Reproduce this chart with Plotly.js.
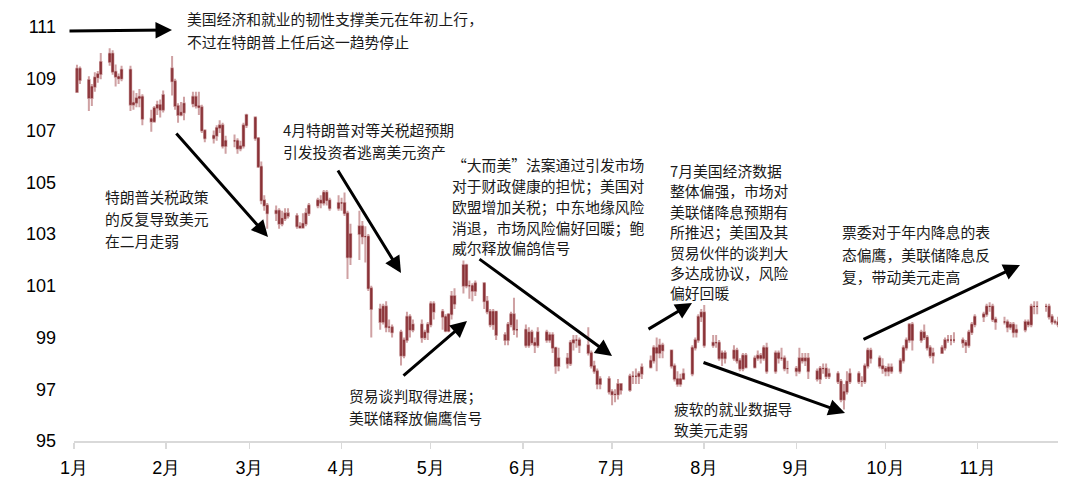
<!DOCTYPE html>
<html>
<head>
<meta charset="utf-8">
<script src="https://cdn.plot.ly/plotly-3.0.1.min.js"></script>
<style>html,body{margin:0;padding:0;background:#fff;}#chart{width:1080px;height:496px;}</style>
</head>
<body>
<div id="chart"></div>
<script>
// ---- Data: US dollar index (DXY) daily OHLC, 2025 ----
const dates = [
  "2025-01-02","2025-01-03","2025-01-06","2025-01-07","2025-01-08","2025-01-09","2025-01-10","2025-01-13","2025-01-14","2025-01-15","2025-01-16","2025-01-17","2025-01-20","2025-01-21","2025-01-22","2025-01-23","2025-01-24","2025-01-27","2025-01-28","2025-01-29","2025-01-30","2025-01-31",
  "2025-02-03","2025-02-04","2025-02-05","2025-02-06","2025-02-07","2025-02-10","2025-02-11","2025-02-12","2025-02-13","2025-02-14","2025-02-17","2025-02-18","2025-02-19","2025-02-20","2025-02-21","2025-02-24","2025-02-25","2025-02-26","2025-02-27","2025-02-28",
  "2025-03-03","2025-03-04","2025-03-05","2025-03-06","2025-03-07","2025-03-10","2025-03-11","2025-03-12","2025-03-13","2025-03-14","2025-03-17","2025-03-18","2025-03-19","2025-03-20","2025-03-21","2025-03-24","2025-03-25","2025-03-26","2025-03-27","2025-03-28","2025-03-31",
  "2025-04-01","2025-04-02","2025-04-03","2025-04-04","2025-04-07","2025-04-08","2025-04-09","2025-04-10","2025-04-11","2025-04-14","2025-04-15","2025-04-16","2025-04-17","2025-04-18","2025-04-21","2025-04-22","2025-04-23","2025-04-24","2025-04-25","2025-04-28","2025-04-29","2025-04-30",
  "2025-05-01","2025-05-02","2025-05-05","2025-05-06","2025-05-07","2025-05-08","2025-05-09","2025-05-12","2025-05-13","2025-05-14","2025-05-15","2025-05-16","2025-05-19","2025-05-20","2025-05-21","2025-05-22","2025-05-23","2025-05-26","2025-05-27","2025-05-28","2025-05-29","2025-05-30",
  "2025-06-02","2025-06-03","2025-06-04","2025-06-05","2025-06-06","2025-06-09","2025-06-10","2025-06-11","2025-06-12","2025-06-13","2025-06-16","2025-06-17","2025-06-18","2025-06-19","2025-06-20","2025-06-23","2025-06-24","2025-06-25","2025-06-26","2025-06-27","2025-06-30",
  "2025-07-01","2025-07-02","2025-07-03","2025-07-04","2025-07-07","2025-07-08","2025-07-09","2025-07-10","2025-07-11","2025-07-14","2025-07-15","2025-07-16","2025-07-17","2025-07-18","2025-07-21","2025-07-22","2025-07-23","2025-07-24","2025-07-25","2025-07-28","2025-07-29","2025-07-30","2025-07-31",
  "2025-08-01","2025-08-04","2025-08-05","2025-08-06","2025-08-07","2025-08-08","2025-08-11","2025-08-12","2025-08-13","2025-08-14","2025-08-15","2025-08-18","2025-08-19","2025-08-20","2025-08-21","2025-08-22","2025-08-25","2025-08-26","2025-08-27","2025-08-28","2025-08-29",
  "2025-09-01","2025-09-02","2025-09-03","2025-09-04","2025-09-05","2025-09-08","2025-09-09","2025-09-10","2025-09-11","2025-09-12","2025-09-15","2025-09-16","2025-09-17","2025-09-18","2025-09-19","2025-09-22","2025-09-23","2025-09-24","2025-09-25","2025-09-26","2025-09-29","2025-09-30",
  "2025-10-01","2025-10-02","2025-10-03","2025-10-06","2025-10-07","2025-10-08","2025-10-09","2025-10-10","2025-10-13","2025-10-14","2025-10-15","2025-10-16","2025-10-17","2025-10-20","2025-10-21","2025-10-22","2025-10-23","2025-10-24","2025-10-27","2025-10-28","2025-10-29","2025-10-30","2025-10-31",
  "2025-11-03","2025-11-04","2025-11-05","2025-11-06","2025-11-07","2025-11-10","2025-11-11","2025-11-12","2025-11-13","2025-11-14","2025-11-17","2025-11-18","2025-11-19","2025-11-20","2025-11-21","2025-11-24","2025-11-25","2025-11-26","2025-11-27","2025-11-28"
];
const openVals = [
  108.49,109.39,108.95,108.26,108.69,109.05,109.18,109.65,109.97,109.27,109.08,109.01,109.35,108.00,108.07,108.25,108.30,107.45,107.35,107.87,107.99,107.80,
  109.40,108.90,107.95,107.60,107.70,108.04,108.30,107.95,107.90,107.00,106.70,106.80,107.10,107.20,106.40,106.60,106.60,106.30,106.40,107.20,
  107.50,106.70,105.60,104.30,104.10,103.80,103.90,103.40,103.60,103.80,103.70,103.30,103.25,103.40,103.80,104.10,104.30,104.20,104.60,104.30,104.00,
  104.20,104.20,103.80,102.10,103.00,103.30,102.90,102.90,100.90,100.10,99.60,100.20,99.40,99.40,99.20,98.30,98.90,99.80,99.30,99.50,99.00,99.20,
  99.50,100.30,100.00,99.80,99.25,99.90,100.60,101.00,101.80,101.00,101.00,100.80,101.10,100.40,100.00,99.50,100.00,99.10,98.90,99.50,99.90,99.30,
  99.30,98.70,99.20,98.80,98.70,99.20,98.90,99.10,98.60,97.90,98.20,98.00,98.80,98.90,98.90,98.70,98.40,97.90,97.70,97.20,97.40,
  96.90,96.80,96.80,97.20,96.97,97.50,97.50,97.50,97.60,97.85,98.10,98.60,98.40,98.70,98.50,97.90,97.40,97.20,97.40,97.60,98.60,98.90,99.80,
  99.97,98.70,98.80,98.80,98.20,98.40,98.20,98.50,98.10,97.80,98.30,97.85,98.20,98.30,98.20,98.60,97.70,98.40,98.20,98.20,97.80,
  97.80,97.70,98.20,98.10,98.20,97.70,97.40,97.80,97.80,97.50,97.60,97.30,96.60,96.90,97.30,97.60,97.30,97.30,97.90,98.50,98.20,97.90,
  97.80,97.70,97.85,97.70,98.10,98.60,98.90,99.50,98.90,99.20,99.00,98.60,98.30,98.40,98.60,98.90,98.90,98.90,98.90,98.80,98.70,99.20,99.50,
  99.80,99.90,100.20,100.20,99.70,99.60,99.60,99.40,99.50,99.20,99.30,99.60,99.50,100.20,100.20,100.20,100.20,99.80,99.60,99.60
];
const highVals = [
  109.54,109.47,109.10,108.80,109.25,109.30,110.00,110.18,110.10,109.55,109.20,109.50,109.50,108.55,108.45,108.60,108.40,107.80,107.95,108.15,108.20,108.55,
  109.88,109.00,108.05,108.10,108.30,108.50,108.50,108.50,108.00,107.05,107.00,107.20,107.40,107.30,106.80,106.85,106.70,106.60,107.30,107.65,
  107.55,106.75,105.80,104.50,104.20,104.10,104.00,103.90,104.00,104.00,103.80,103.45,103.80,104.00,104.20,104.40,104.50,104.70,104.70,104.40,104.50,
  104.40,104.60,103.90,103.40,103.90,103.50,103.30,103.00,101.00,100.30,100.30,100.40,99.70,99.50,99.30,99.00,100.00,99.90,99.70,99.70,99.30,99.60,
  100.40,100.40,100.10,99.90,99.90,100.80,100.90,101.98,101.85,101.20,101.10,101.20,101.10,100.60,100.10,100.10,100.00,99.20,99.60,100.00,100.54,99.70,
  99.50,99.40,99.30,99.00,99.40,99.30,99.20,99.20,98.60,98.60,98.40,98.90,99.10,99.10,99.00,99.40,98.50,98.10,97.80,97.50,97.50,
  97.00,97.00,97.40,97.20,97.60,97.70,97.80,97.70,98.00,98.30,98.70,99.00,98.95,98.80,98.50,98.00,97.70,97.60,97.80,98.70,99.00,99.90,100.10,
  100.26,99.10,99.10,98.90,98.50,98.50,98.70,98.60,98.20,98.40,98.40,98.30,98.50,98.40,98.70,98.80,98.50,98.50,98.60,98.30,98.10,
  97.90,98.60,98.40,98.40,98.40,97.80,97.90,98.00,98.00,97.80,97.70,97.40,97.20,97.70,97.80,97.70,97.50,98.00,98.60,98.60,98.30,98.20,
  97.90,98.00,98.00,98.20,98.70,99.00,99.56,99.60,99.30,99.50,99.10,98.70,98.60,98.70,99.00,99.10,99.10,99.20,99.00,98.90,99.30,99.60,99.90,
  100.00,100.30,100.36,100.30,99.80,99.80,99.70,99.60,99.60,99.50,99.70,99.70,100.30,100.40,100.40,100.30,100.30,99.90,99.70,99.80
];
const lowVals = [
  108.48,108.80,107.75,107.95,108.50,108.85,108.98,109.50,109.15,108.70,108.80,108.90,107.75,107.80,107.90,107.90,107.20,106.95,107.30,107.60,107.50,107.70,
  108.35,107.80,107.30,107.55,107.40,107.90,107.85,107.60,106.90,106.55,106.50,106.60,106.90,106.30,106.10,106.35,106.10,106.20,106.30,107.10,
  106.60,105.55,104.15,103.90,103.20,103.50,103.20,103.30,103.50,103.60,103.20,103.20,103.20,103.30,103.70,104.00,104.00,104.10,104.10,103.90,103.90,
  103.90,103.70,101.26,101.80,102.00,102.60,101.90,100.80,99.00,99.30,99.50,99.20,99.20,99.00,97.92,98.20,98.80,99.00,99.20,98.80,98.90,98.90,
  99.40,99.70,99.30,99.20,99.20,99.70,100.10,100.70,100.90,100.50,100.40,100.60,100.10,99.90,99.40,99.30,98.90,98.70,98.70,99.40,99.10,99.00,
  98.60,98.60,98.70,98.40,98.60,98.80,98.80,98.40,97.60,97.70,97.80,97.90,98.50,98.60,98.40,98.30,97.80,97.60,97.00,97.00,96.80,
  96.38,96.50,96.60,96.80,96.90,97.20,97.20,97.20,97.40,97.80,98.00,97.70,98.20,98.20,97.80,97.30,97.10,97.10,97.40,97.50,98.50,98.80,99.60,
  98.60,98.60,98.60,98.10,97.90,98.00,98.10,98.00,97.70,97.70,97.80,97.80,98.10,98.00,98.10,97.60,97.60,98.00,98.10,97.70,97.60,
  97.50,97.60,98.00,97.90,97.40,97.30,97.20,97.60,97.40,97.40,97.20,96.50,96.22,96.80,97.20,97.20,97.10,97.20,97.80,98.00,97.80,97.60,
  97.50,97.50,97.60,97.60,98.00,98.50,98.80,98.50,98.80,98.90,98.50,98.20,98.00,98.40,98.50,98.80,98.70,98.80,98.60,98.40,98.60,99.10,99.40,
  99.60,99.80,100.00,99.60,99.30,99.50,99.20,99.30,99.00,99.00,99.20,99.40,99.40,99.90,99.90,100.00,99.70,99.50,99.50,99.40
];
const closeVals = [
  109.39,108.95,108.26,108.69,109.05,109.18,109.65,109.97,109.27,109.08,109.01,109.35,108.00,108.07,108.25,108.30,107.45,107.35,107.87,107.99,107.80,108.37,
  108.90,107.95,107.60,107.70,108.04,108.30,107.95,107.90,107.00,106.70,106.80,107.10,107.20,106.40,106.60,106.60,106.30,106.40,107.20,107.60,
  106.70,105.60,104.30,104.10,103.80,103.90,103.40,103.60,103.80,103.70,103.30,103.25,103.40,103.80,104.10,104.30,104.20,104.60,104.30,104.00,104.20,
  104.20,103.80,102.10,103.00,103.30,102.90,102.90,100.90,100.10,99.60,100.20,99.40,99.40,99.20,98.30,98.90,99.80,99.30,99.50,99.00,99.20,99.50,
  100.30,100.00,99.80,99.25,99.90,100.60,100.30,101.80,101.00,101.00,100.80,101.10,100.40,100.00,99.50,100.00,99.10,98.90,99.50,99.90,99.30,99.30,
  98.70,99.20,98.80,98.70,99.20,98.90,99.10,98.60,97.90,98.20,98.00,98.80,98.90,98.90,98.70,98.40,97.90,97.70,97.20,97.40,96.90,
  96.80,96.80,97.20,96.97,97.50,97.50,97.50,97.60,97.85,98.10,98.60,98.40,98.70,98.50,97.90,97.40,97.20,97.40,97.60,98.60,98.90,99.80,99.97,
  98.70,98.80,98.80,98.20,98.40,98.20,98.50,98.10,97.80,98.30,97.85,98.20,98.30,98.20,98.60,97.70,98.40,98.20,98.20,97.80,97.80,
  97.70,98.20,98.10,98.20,97.70,97.40,97.80,97.80,97.50,97.60,97.30,96.60,96.90,97.30,97.60,97.30,97.30,97.90,98.50,98.20,97.90,97.80,
  97.70,97.85,97.70,98.10,98.60,98.90,99.50,98.90,99.20,99.00,98.60,98.30,98.40,98.60,98.90,98.90,98.90,98.90,98.80,98.70,99.20,99.50,99.80,
  99.90,100.20,100.20,99.70,99.60,99.60,99.40,99.50,99.20,99.30,99.60,99.50,100.20,100.20,100.20,100.20,99.80,99.60,99.60,99.50
];

// Axis labels
const monthTicks = ["2025-01-01","2025-02-01","2025-03-01","2025-04-01","2025-05-01","2025-06-01","2025-07-01","2025-08-01","2025-09-01","2025-10-01","2025-11-01"];
const monthLabels = ["1月","2月","3月","4月","5月","6月","7月","8月","9月","10月","11月"];
const yTicks = [95, 97, 99, 101, 103, 105, 107, 109, 111];

// Annotation texts
const notes = [
  ["美国经济和就业的韧性支撑美元在年初上行，", 185, 19],
  ["不过在特朗普上任后这一趋势停止", 185, 41],
  ["特朗普关税政策", 103, 196],
  ["的反复导致美元", 103, 218],
  ["在二月走弱", 103, 240],
  ["4月特朗普对等关税超预期", 281, 129],
  ["引发投资者逃离美元资产", 281, 151],
  ["贸易谈判取得进展；", 347, 395],
  ["美联储释放偏鹰信号", 347, 417],
  ["“大而美”法案通过引发市场", 450, 164],
  ["对于财政健康的担忧；美国对", 450, 185],
  ["欧盟增加关税；中东地缘风险", 450, 206],
  ["消退，市场风险偏好回暖；鲍", 450, 227],
  ["威尔释放偏鸽信号", 450, 248],
  ["7月美国经济数据", 668, 170],
  ["整体偏强，市场对", 668, 190.5],
  ["美联储降息预期有", 668, 211],
  ["所推迟；美国及其", 668, 231.5],
  ["贸易伙伴的谈判大", 668, 252],
  ["多达成协议，风险", 668, 272],
  ["偏好回暖", 668, 292.5],
  ["疲软的就业数据导", 672, 408],
  ["致美元走弱", 672, 429],
  ["票委对于年内降息的表", 840, 231],
  ["态偏鹰，美联储降息反", 840, 254],
  ["复，带动美元走高", 840, 276]
];
// Arrows: [tailX, tailY, headX, headY] in pixels
const arrows = [
  [68, 31, 172, 30],
  [175, 132, 268, 237],
  [337, 169, 401, 273],
  [402, 377, 467, 321],
  [478, 258, 612, 356],
  [647, 330, 692, 303],
  [702, 362, 845, 413],
  [862, 340, 1020, 265]
];

const L = 74, R = 1058, T = 27, B = 441;
const px = x => (x - L) / (R - L);
const py = y => (B - y) / (B - T);
const cjk = '"Noto Sans CJK SC", "Noto Sans", sans-serif';
const latin = '"Liberation Sans", Arial, sans-serif';

const annotations = [];
notes.forEach(n => annotations.push({
  xref: 'paper', yref: 'paper', x: px(n[1]), y: py(n[2]),
  xanchor: 'left', yanchor: 'middle', text: n[0], showarrow: false,
  font: {family: cjk, size: 14.8, color: '#1a1a1a'}
}));
arrows.forEach(a => annotations.push({
  xref: 'paper', yref: 'paper', x: px(a[2]), y: py(a[3]),
  axref: 'pixel', ayref: 'pixel', ax: a[0] - a[2], ay: a[1] - a[3],
  text: '', showarrow: true, arrowhead: 2, arrowsize: 1.1, arrowwidth: 3,
  arrowcolor: '#000', standoff: 0, startstandoff: 0
}));

// high-low range (light) and open-close body (dark)
const bodyTop = openVals.map((o, i) => Math.max(o, closeVals[i]));
const bodyBot = openVals.map((o, i) => Math.min(o, closeVals[i]));

const rangeTrace = {
  type: 'candlestick',
  x: dates, open: openVals, high: highVals, low: lowVals, close: closeVals,
  increasing: {line: {color: '#cfa1a3', width: 2}, fillcolor: '#cfa1a3'},
  decreasing: {line: {color: '#cfa1a3', width: 2}, fillcolor: '#cfa1a3'},
  whiskerwidth: 0, hoverinfo: 'skip'
};
const bodyTrace = {
  type: 'candlestick',
  x: dates, open: openVals, high: bodyTop, low: bodyBot, close: closeVals,
  increasing: {line: {color: '#8a3338', width: 0.8}, fillcolor: '#8a3338'},
  decreasing: {line: {color: '#8a3338', width: 0.8}, fillcolor: '#8a3338'},
  whiskerwidth: 0, hoverinfo: 'skip'
};

const layout = {
  width: 1080, height: 496,
  margin: {l: L, r: 1080 - R, t: T, b: 496 - B},
  paper_bgcolor: '#fff', plot_bgcolor: '#fff',
  showlegend: false,
  font: {family: latin, color: '#000'},
  xaxis: {
    type: 'date', range: ['2025-01-01', '2025-11-28'],
    tickvals: monthTicks, ticktext: monthLabels,
    ticks: 'outside', ticklen: 6, tickwidth: 1.5, tickcolor: '#d9d9d9',
    showline: true, linecolor: '#d9d9d9', linewidth: 1.5,
    showgrid: false, zeroline: false,
    rangeslider: {visible: false},
    tickfont: {family: latin, size: 18, color: '#000'},
    ticklabelstandoff: 4
  },
  yaxis: {
    range: [95, 111], tickvals: yTicks, ticktext: yTicks.map(String),
    showline: false, showgrid: false, zeroline: false, ticks: '',
    tickfont: {family: latin, size: 18, color: '#000'},
    ticklabelstandoff: 17
  },
  annotations: annotations
};

Plotly.newPlot('chart', [rangeTrace, bodyTrace], layout, {staticPlot: true, displayModeBar: false});
</script>
</body>
</html>
